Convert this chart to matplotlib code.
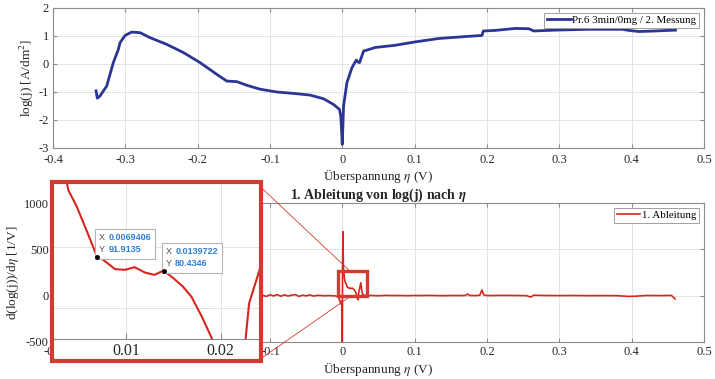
import matplotlib
matplotlib.use("Agg")
import matplotlib.pyplot as plt
from matplotlib.patches import Rectangle, ConnectionPatch
from matplotlib.offsetbox import TextArea, HPacker, VPacker, AnnotationBbox

plt.rcParams['font.family'] = ['Liberation Serif', 'DejaVu Serif']
plt.rcParams['mathtext.fontset'] = 'stix'

# --- data: log(j) over overpotential ---
eta = [-0.3405, -0.3387, -0.335, -0.3258, -0.3166, -0.3097, -0.3073, -0.3004, -0.2912,
       -0.2797, -0.2658, -0.2427, -0.2198, -0.1967, -0.1736, -0.1598, -0.1459, -0.1321,
       -0.1137, -0.0906, -0.0676, -0.0446, -0.0262, -0.0124, -0.004, -0.0021, -0.0001,
       0.0017, 0.0064, 0.0133, 0.0193, 0.0216, 0.0238, 0.0293, 0.0456, 0.0733, 0.101,
       0.133, 0.170, 0.193, 0.195, 0.2116, 0.239, 0.2577, 0.2646, 0.2946, 0.3407, 0.387,
       0.396, 0.41, 0.433, 0.4606]
logj = [-0.96, -1.22, -1.14, -0.79, 0.05, 0.52, 0.76, 1.02, 1.14,
        1.12, 0.94, 0.70, 0.41, 0.05, -0.37, -0.61, -0.63, -0.76,
        -0.90, -1.0, -1.05, -1.11, -1.24, -1.44, -1.62, -1.86, -2.87,
        -1.5, -0.66, -0.13, 0.14, 0.07, 0.05, 0.46, 0.59, 0.67, 0.79,
        0.91, 0.98, 1.02, 1.18, 1.2, 1.27, 1.26, 1.18, 1.21, 1.24, 1.24,
        1.2, 1.16, 1.18, 1.21]

# --- data: first derivative ---
d_eta = [-0.3405, -0.3387, -0.335, -0.326, -0.317, -0.307, -0.29, -0.27, -0.25, -0.22,
         -0.19, -0.16, -0.145, -0.13, -0.115,
         -0.11, -0.105, -0.1, -0.095, -0.09, -0.085, -0.08, -0.075, -0.07, -0.065,
         -0.06, -0.055, -0.05, -0.045, -0.04, -0.035, -0.03, -0.025, -0.02, -0.015,
         -0.01, -0.006, -0.004, -0.002, -0.0008, -0.0002, 0.0003, 0.0008, 0.0015,
         0.003, 0.0039, 0.0048, 0.00567, 0.0069406, 0.0076, 0.00884, 0.0099, 0.0109,
         0.012, 0.013, 0.0139722, 0.015, 0.016, 0.0169, 0.018, 0.0191, 0.0205, 0.0217,
         0.02257, 0.023, 0.0241, 0.0255, 0.0268, 0.028, 0.030, 0.033,
         0.04, 0.05, 0.06, 0.07, 0.08, 0.09, 0.10, 0.11, 0.12, 0.13, 0.14, 0.15, 0.16,
         0.17, 0.173, 0.176, 0.185, 0.19, 0.193, 0.1955, 0.20, 0.22, 0.24, 0.255,
         0.26, 0.265, 0.28, 0.30, 0.32, 0.34, 0.36, 0.38, 0.395, 0.405, 0.42, 0.44,
         0.455, 0.46]
d_logj = [-150, 80, 40, 50, 60, 30, 10, -8, -10, -14,
          -12, -5, -8, -6, -6,
          4, -8, 10, -3, 12, -6, 9, -4, 6, 11,
          -7, 5, -2, 8, -4, 3, 2, -1, 1, 0,
          -2, -10, -40, -90, -60, -1200, 300, 690, 300,
          185, 146.6, 132.9, 116.5, 91.9135, 89.2, 81.6, 81, 83.2,
          78.8, 76.9, 80.4346, 74.2, 67.3, 59.1, 42.7, 24.2, -20, -45,
          20, 53.7, 81, 140, 60, 15, 5, 0,
          2, -1, 3, 1, 2, 0, 2, 1, 3, 1, 0, 2, 1,
          2, 18, 2, 1, 5, 62, 8, 1, 3, 2, 0,
          -15, 5, 2, 1, 2, 0, 1, 0, -8, -6, 2, 1,
          3, -35]

tip_x = [0.0069406, 0.0139722]
tip_y = [91.9135, 80.4346]

x_ticks = [-0.4, -0.3, -0.2, -0.1, 0, 0.1, 0.2, 0.3, 0.4, 0.5]
x_labels = ['-0.4', '-0.3', '-0.2', '-0.1', '0', '0.1', '0.2', '0.3', '0.4', '0.5']

blue = '#2b3593'
red = '#d7261e'
frame_red = '#d33a32'
grid_c = '#e3e3e3'
spine_c = '#8c8c8c'
text_c = '#262626'

W, H = 715, 379
fig = plt.figure(figsize=(W / 100, H / 100), dpi=100)


def px_rect(l, t, r, b):
    return [l / W, 1 - b / H, (r - l) / W, (b - t) / H]


def style(ax):
    ax.grid(True, color=grid_c, lw=0.7)
    ax.set_axisbelow(True)
    for s in ax.spines.values():
        s.set_color(spine_c)
        s.set_linewidth(0.8)
    ax.tick_params(direction='in', top=True, right=True, length=3,
                   color=spine_c, labelsize=9, labelcolor=text_c, pad=3)


# top: log(j)
ax1 = fig.add_axes(px_rect(53, 8, 704, 148))
ax1.plot(eta, logj, color=blue, lw=2.0, label='Pr.6 3min/0mg / 2. Messung')
ax1.set_xlim(-0.4, 0.5)
ax1.set_ylim(-3, 2)
ax1.set_xticks(x_ticks)
ax1.set_xticklabels(x_labels)
ax1.set_yticks([-3, -2, -1, 0, 1, 2])
ax1.set_yticklabels(['-3', '-2', '-1', '0', '1', '2'])
style(ax1)
ax1.tick_params(axis='x', pad=4)
ax1.set_xlabel(r'Überspannung $\eta$ (V)', fontsize=9.5, color=text_c, labelpad=1)
ax1.set_ylabel(r'log(j) [A/dm$^2$]', fontsize=9.5, color=text_c, labelpad=2)
leg = ax1.legend(loc='upper right', fontsize=7.8, handlelength=2.2, handletextpad=0.15,
                 borderpad=0.25, borderaxespad=0.45, fancybox=False, framealpha=1)
leg.get_frame().set_edgecolor('#a0a0a0')
leg.get_frame().set_linewidth(0.7)

# bottom: derivative
ax2 = fig.add_axes(px_rect(53, 203, 704, 342))
ax2.plot(d_eta, d_logj, color=red, lw=1.2, label='1. Ableitung')
ax2.set_xlim(-0.4, 0.5)
ax2.set_ylim(-500, 1000)
ax2.set_xticks(x_ticks)
# labels at -0.3 and -0.2 sit under the inset anyway
ax2.set_xticklabels([l if l not in ('-0.3', '-0.2') else '' for l in x_labels])
ax2.set_yticks([-500, 0, 500, 1000])
ax2.set_yticklabels(['-500', '0', '500', '1000'])
style(ax2)
ax2.set_xlabel(r'Überspannung $\eta$ (V)', fontsize=9.5, color=text_c, labelpad=1)
ax2.set_ylabel(r'd(log(j))/d$\eta$ [1/V]', fontsize=9.5, color=text_c, labelpad=2)
ax2.set_title(r'1. Ableitung von log(j) nach $\boldsymbol{\eta}$', fontsize=10,
              fontweight='bold', color=text_c, pad=3)
leg2 = ax2.legend(loc='upper right', fontsize=7.8, handlelength=2.2, handletextpad=0.15,
                  borderpad=0.25, borderaxespad=0.45, fancybox=False, framealpha=1)
leg2.get_frame().set_edgecolor('#a0a0a0')
leg2.get_frame().set_linewidth(0.7)

# zoom marker in main plot
ax2.add_patch(Rectangle((-0.006, -8), 0.040, 269, fill=False, edgecolor=frame_red,
                        lw=2.4, zorder=4))

# inset background and frame
fig.add_artist(Rectangle((52 / W, 1 - 361 / H), 209 / W, 179 / H, transform=fig.transFigure,
                         facecolor='white', edgecolor='none', zorder=2))
ax_in = fig.add_axes(px_rect(54, 184, 259, 339))
ax_in.set_zorder(3)
ax_in.patch.set_alpha(0)
ax_in.plot(d_eta, d_logj, color=red, lw=1.5)
ax_in.set_xlim(0.0024, 0.02404)
ax_in.set_ylim(24.3, 151.4)
ax_in.set_xticks([0.01, 0.02])
ax_in.set_xticklabels(['0.01', '0.02'])
ax_in.set_yticks([50, 100])
ax_in.set_yticklabels([])
ax_in.grid(True, color=grid_c, lw=0.7)
for s in ['top', 'left', 'right']:
    ax_in.spines[s].set_visible(False)
ax_in.spines['bottom'].set_color(spine_c)
ax_in.tick_params(axis='x', direction='in', length=4, color=spine_c, labelsize=11.5,
                  labelcolor=text_c, pad=3)
ax_in.tick_params(axis='y', length=0)

fig.add_artist(Rectangle((52 / W, 1 - 361 / H), 209 / W, 179 / H, transform=fig.transFigure,
                         facecolor='none', edgecolor=frame_red, lw=3.0, zorder=5))

# connector lines from inset to zoom marker
for ya, yb in [(0.99, 261), (-0.135, -8)]:
    cp = ConnectionPatch(xyA=(1.0, ya), coordsA=ax_in.transAxes, xyB=(0.011, yb),
                         coordsB=ax2.transData, color=frame_red, lw=0.6)
    cp.set_zorder(1.5)
    fig.add_artist(cp)

# data tips
for x, y in zip(tip_x, tip_y):
    rows = []
    for lab, val in (("X", f"{x:.7g}"), ("Y", f"{y:.6g}")):
        rows.append(HPacker(children=[
            TextArea(lab, textprops=dict(color='#505050', fontsize=6.5, family='Liberation Sans')),
            TextArea(val, textprops=dict(color='#2f7fd2', fontsize=6.5, family='Liberation Sans',
                                         fontweight='bold'))], pad=0, sep=2.5))
    box = VPacker(children=rows, pad=0, sep=2.5)
    ab = AnnotationBbox(box, (x, y), xybox=(1.5, 1.5), xycoords='data',
                        boxcoords='offset points', box_alignment=(0, 0), frameon=True,
                        pad=0.3, bboxprops=dict(edgecolor='#b4b4b4', facecolor='white', lw=0.8))
    ax_in.add_artist(ab)
    ax_in.plot(x, y, 'o', color='black', ms=2.5, zorder=6)

fig.savefig('out.png', dpi=100)
